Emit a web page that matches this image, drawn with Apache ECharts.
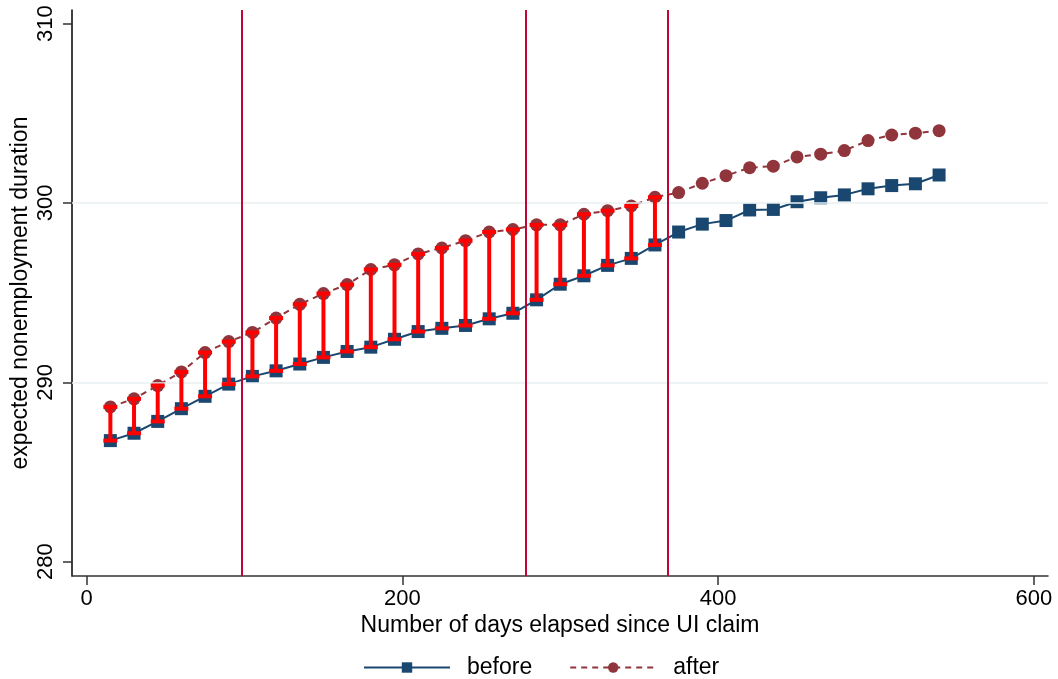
<!DOCTYPE html>
<html>
<head>
<meta charset="utf-8">
<script src="https://cdn.jsdelivr.net/npm/echarts@6/dist/echarts.min.js"></script>
<style>html,body{margin:0;padding:0;background:#fff}#c{width:1058px;height:679px}</style>
</head>
<body>
<div id="c"></div>
<script>
const days = [15,30,45,60,75,90,105,120,135,150,165,180,195,210,225,240,255,270,285,300,315,330,345,360,375,390,405,420,435,450,465,480,495,510,525,540];
const before = [286.75,287.16,287.82,288.53,289.22,289.90,290.33,290.64,291.02,291.39,291.72,291.96,292.40,292.83,293.01,293.17,293.54,293.85,294.60,295.47,295.94,296.52,296.91,297.66,298.38,298.82,299.02,299.61,299.64,300.07,300.29,300.45,300.79,300.97,301.07,301.56];
const after = [288.63,289.08,289.82,290.58,291.66,292.27,292.78,293.58,294.35,294.95,295.45,296.29,296.55,297.16,297.49,297.90,298.38,298.52,298.78,298.78,299.37,299.57,299.83,300.32,300.58,301.10,301.52,301.97,302.05,302.57,302.72,302.92,303.48,303.79,303.89,304.03];
const rangeMaxDay = 360;
const refLines = [98, 278, 368];
const xTicks = [0, 200, 400, 600];
const yTicks = [280, 290, 300, 310];
const yGrid = [290, 300];

const FONT = "'Liberation Sans', Arial, Helvetica, sans-serif";
const beforeData = days.map((d, i) => [d, before[i]]);
const afterData = days.map((d, i) => [d, after[i]]);
const rangeData = days.map((d, i) => [d, before[i], after[i]]).filter(r => r[0] <= rangeMaxDay);

const chart = echarts.init(document.getElementById('c'), null, {renderer: 'canvas'});
chart.setOption({
  animation: false,
  backgroundColor: '#ffffff',
  textStyle: {fontFamily: FONT},
  grid: {left: 72, right: 10, top: 10, bottom: 103, containLabel: false, outerBoundsMode: 'none'},
  xAxis: {
    type: 'value', min: -9.3, max: 609,
    name: 'Number of days elapsed since UI claim', nameLocation: 'middle', nameGap: 38, nameMoveOverlap: false,
    nameTextStyle: {fontSize: 23, color: '#000', fontFamily: FONT},
    axisLine: {show: true, onZero: false, lineStyle: {color: '#333', width: 1.5}},
    axisTick: {show: true, length: 9, lineStyle: {color: '#333', width: 1.5}, customValues: xTicks},
    axisLabel: {fontSize: 22, color: '#000', margin: 12, fontFamily: FONT, customValues: xTicks},
    splitLine: {show: false}
  },
  yAxis: {
    type: 'value', min: 279.2, max: 310.76,
    name: 'expected nonemployment duration', nameLocation: 'middle', nameGap: 40, nameMoveOverlap: false,
    nameTextStyle: {fontSize: 23, color: '#000', fontFamily: FONT},
    axisLine: {show: true, onZero: false, lineStyle: {color: '#000', width: 1.5}},
    axisTick: {show: true, length: 9, lineStyle: {color: '#333', width: 1.5}, customValues: yTicks},
    axisLabel: {fontSize: 22, color: '#000', margin: 15, rotate: 90, fontFamily: FONT, customValues: yTicks},
    splitLine: {show: false}
  },
  legend: {
    data: ['before', 'after'],
    left: 358, top: 651,
    itemWidth: 86, itemHeight: 13, itemGap: 37,
    textStyle: {fontSize: 23, color: '#000', fontFamily: FONT, padding: [0, 0, 0, 12]},
    selectedMode: false
  },
  series: [
    {
      type: 'line', name: 'grid', data: [], z: 0, silent: true,
      markLine: {
        silent: true, symbol: 'none', label: {show: false},
        lineStyle: {color: '#e9f1f2', width: 1.5, type: 'solid'},
        data: yGrid.map(v => ({yAxis: v}))
      }
    },
    {
      type: 'line', name: 'ref', data: [], z: 1, silent: true,
      markLine: {
        silent: true, symbol: 'none', label: {show: false},
        lineStyle: {color: '#c10534', width: 2, type: 'solid'},
        data: refLines.map(v => ({xAxis: v}))
      }
    },
    {
      type: 'line', name: 'before', data: beforeData, z: 3,
      symbol: 'rect', symbolSize: 13, showAllSymbol: true,
      lineStyle: {color: '#1a476f', width: 2},
      itemStyle: {color: '#1a476f'},
      emphasis: {disabled: true}
    },
    {
      type: 'line', name: 'after', data: afterData, z: 3,
      symbol: 'circle', symbolSize: 13, showAllSymbol: true,
      lineStyle: {color: '#90353b', width: 2, type: [6, 5]},
      itemStyle: {color: '#90353b'},
      emphasis: {disabled: true}
    },
    {
      type: 'custom', name: 'range', data: rangeData, z: 5, silent: true,
      encode: {x: 0, y: [1, 2]},
      renderItem: function (params, api) {
        const x = api.value(0);
        const lo = api.coord([x, api.value(1)]);
        const hi = api.coord([x, api.value(2)]);
        const cap = 7;
        const style = {stroke: '#ff0000', lineWidth: 4};
        return {
          type: 'group',
          children: [
            {type: 'line', shape: {x1: lo[0], y1: lo[1], x2: hi[0], y2: hi[1]}, style: style},
            {type: 'line', shape: {x1: lo[0] - cap, y1: lo[1], x2: lo[0] + cap, y2: lo[1]}, style: style},
            {type: 'line', shape: {x1: hi[0] - cap, y1: hi[1], x2: hi[0] + cap, y2: hi[1]}, style: style}
          ]
        };
      }
    }
  ]
});
</script>
</body>
</html>
